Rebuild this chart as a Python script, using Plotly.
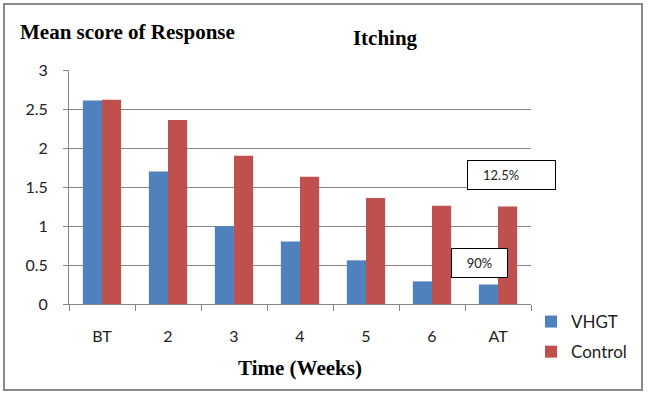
import plotly.graph_objects as go

categories = ["BT", "2", "3", "4", "5", "6", "AT"]
vhgt = [2.61, 1.70, 1.00, 0.80, 0.56, 0.29, 0.25]
control = [2.62, 2.36, 1.90, 1.63, 1.36, 1.26, 1.25]
y_ticks = [0, 0.5, 1, 1.5, 2, 2.5, 3]
y_tick_labels = ["0", "0.5", "1", "1.5", "2", "2.5", "3"]

BLUE = "#4F81BD"
RED = "#C0504D"
GRID = "#878787"
SANS = "Lato, 'Open Sans', sans-serif"
SERIF = "'Liberation Serif', 'Times New Roman', serif"

fig = go.Figure()
fig.add_trace(go.Bar(x=categories, y=vhgt, name="VHGT", marker_color=BLUE,
                     marker_line_width=0, legendgroup="a"))
fig.add_trace(go.Bar(x=categories, y=control, name="Control", marker_color=RED,
                     marker_line_width=0, legendgroup="b"))

fig.update_layout(
    width=648, height=396,
    margin=dict(l=69, r=117, t=70, b=92),
    paper_bgcolor="white", plot_bgcolor="white",
    barmode="group", bargap=0.42, bargroupgap=0,
    showlegend=True,
    legend=dict(x=1.0, xanchor="left", y=0.0, yanchor="top",
                font=dict(family=SANS, size=17, color="#222222"),
                tracegroupgap=5, itemclick=False, bgcolor="rgba(0,0,0,0)"),
    title=dict(text="<b>Itching</b>", x=0.684, xref="paper", xanchor="center",
               y=1 - 38 / 396, yref="container", yanchor="middle",
               font=dict(family=SERIF, size=21, color="black")),
    font=dict(family=SANS, color="#222222"),
)

fig.update_xaxes(
    type="category", range=[-0.5, len(categories) - 0.5],
    showline=True, linecolor=GRID, linewidth=1,
    ticks="outside", tickson="boundaries", ticklen=6, tickcolor=GRID,
    tickfont=dict(family=SANS, size=16, color="#222222"),
    ticklabelstandoff=18, showgrid=False,
    title=dict(text="<b>Time (Weeks)</b>", standoff=16,
               font=dict(family=SERIF, size=21, color="black")),
)
fig.update_yaxes(
    range=[0, 3], tickvals=y_ticks, ticktext=y_tick_labels,
    showline=True, linecolor=GRID, linewidth=1,
    ticks="outside", ticklen=5, tickcolor=GRID,
    showgrid=True, gridcolor=GRID, gridwidth=1, zeroline=False,
    tickfont=dict(family=SANS, size=16, color="#222222"),
    ticklabelstandoff=12,
)

# y-axis label shown horizontally in the top-left corner
fig.add_annotation(text="<b>Mean score of Response</b>", xref="paper", yref="paper",
                   x=(18 - 69) / 462, y=(304 - 32) / 234, xanchor="left", yanchor="middle",
                   showarrow=False, font=dict(family=SERIF, size=21, color="black"))

# callout boxes
fig.add_annotation(text=" ", xref="x", yref="y", x=6.205, y=1.654,
                   showarrow=False, width=83, height=24,
                   borderwidth=1, bordercolor="black", borderpad=2,
                   bgcolor="white", xanchor="center", yanchor="middle",
                   font=dict(family=SANS, size=13, color="#222222"))
fig.add_annotation(text="12.5%", xref="x", yref="y", x=6.04, y=1.654,
                   showarrow=False, xanchor="center", yanchor="middle",
                   font=dict(family=SANS, size=13, color="#222222"))
fig.add_annotation(text="90%", xref="x", yref="y", x=5.72, y=0.532,
                   showarrow=False, width=51, height=24, align="center",
                   borderwidth=1, bordercolor="black", borderpad=2,
                   bgcolor="white", xanchor="center", yanchor="middle",
                   font=dict(family=SANS, size=13, color="#222222"))

# outer frame of the chart
fig.add_shape(type="rect", xref="paper", yref="paper",
              x0=(4 - 69) / 462, x1=(642 - 69) / 462,
              y0=(304 - 390) / 234, y1=(304 - 4) / 234,
              line=dict(color="#8A8A8A", width=2), fillcolor="rgba(0,0,0,0)", layer="below")

fig.write_html("out.html", config={"displayModeBar": False},
               post_script="document.body.style.margin='0';document.body.style.overflow='hidden';")
